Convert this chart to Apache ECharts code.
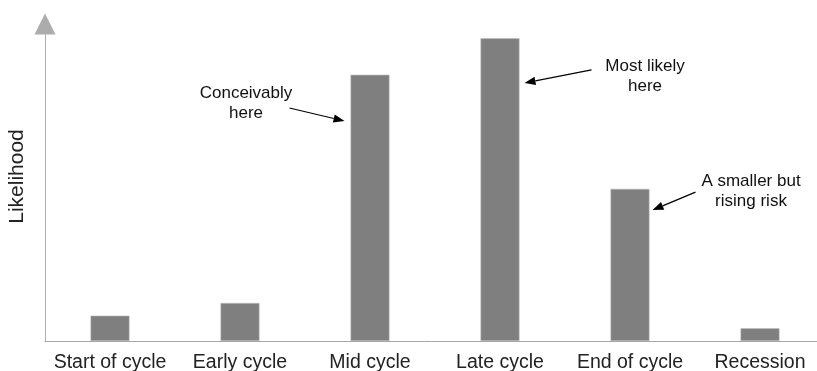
<!DOCTYPE html>
<html>
<head>
<meta charset="utf-8">
<script src="https://cdn.jsdelivr.net/npm/echarts@6/dist/echarts.min.js"></script>
<style>
  html, body { margin: 0; padding: 0; background: #ffffff; }
  #chart { width: 817px; height: 371px; }
</style>
</head>
<body>
<div id="chart"></div>
<script>
// Business-cycle stages and the relative likelihood at each one
const categories = ['Start of cycle', 'Early cycle', 'Mid cycle', 'Late cycle', 'End of cycle', 'Recession'];
const likelihood = [8, 12, 84, 95.5, 48, 4];

// Callouts: text lines, the bar they point at, and the value on that bar the arrow hits
const calloutText = [['Conceivably', 'here'], ['Most likely', 'here'], ['A smaller but', 'rising risk']];
const calloutBar = ['Mid cycle', 'Late cycle', 'End of cycle'];
const calloutValue = [69.4, 81.4, 41.3];

const FONT = 'Liberation Sans, Arial, sans-serif';
const BAND = 130;
const chart = echarts.init(document.getElementById('chart'), null, { renderer: 'canvas' });

chart.setOption({
  animation: false,
  backgroundColor: '#ffffff',
  grid: { left: 45, top: 24, height: 317, width: BAND * categories.length, outerBoundsMode: 'none', containLabel: false },
  xAxis: {
    type: 'category',
    data: categories,
    axisLine: { show: true, lineStyle: { color: '#a6a6a6', width: 1 } },
    axisTick: { show: false },
    axisLabel: { interval: 0, hideOverlap: false, color: '#222', fontFamily: FONT, fontSize: 19.5, margin: 12 },
    splitLine: { show: false }
  },
  yAxis: {
    type: 'value',
    min: 0,
    max: 100,
    name: 'Likelihood',
    nameLocation: 'middle',
    nameGap: 17,
    nameTextStyle: { color: '#222', fontFamily: FONT, fontSize: 21, padding: [0, 0, 0, 12] },
    axisLine: {
      show: true,
      symbol: ['none', 'triangle'],
      symbolSize: [21, 21],
      lineStyle: { color: '#acacac', width: 1 }
    },
    axisTick: { show: false },
    axisLabel: { show: false },
    splitLine: { show: false }
  },
  series: [{
    type: 'bar',
    data: likelihood,
    barWidth: '30%',
    itemStyle: { color: '#7f7f7f', borderColor: '#bdbdbd', borderWidth: 0.6 },
    silent: true
  }]
});

// Build the arrows and labels from the bar positions
const graphics = [];
const calloutLayout = [
  { side: 'left', gap: 6, dx: -98.5, dy: -18, line: [-55, -13] },
  { side: 'right', gap: 5, dx: 120.5, dy: -7, line: [67, -13] },
  { side: 'right', gap: 3, dx: 98.5, dy: -19, line: [43, -18] }
];
calloutBar.forEach((bar, i) => {
  const centre = chart.convertToPixel({ seriesIndex: 0 }, [bar, calloutValue[i]]);
  const half = BAND * 0.3 / 2;
  const o = calloutLayout[i];
  const tipX = o.side === 'left' ? centre[0] - half - o.gap : centre[0] + half + o.gap;
  const tipY = centre[1];
  const startX = tipX + o.line[0];
  const startY = tipY + o.line[1];
  const ang = Math.atan2(tipY - startY, tipX - startX);
  const len = 11, wid = 4.2;
  const bx = tipX - Math.cos(ang) * len, by = tipY - Math.sin(ang) * len;
  graphics.push({
    type: 'line', silent: true,
    shape: { x1: startX, y1: startY, x2: bx, y2: by },
    style: { stroke: '#000', lineWidth: 1.2 }
  });
  graphics.push({
    type: 'polygon', silent: true,
    shape: { points: [[tipX, tipY], [bx - Math.sin(ang) * wid, by + Math.cos(ang) * wid], [bx + Math.sin(ang) * wid, by - Math.cos(ang) * wid]] },
    style: { fill: '#000' }
  });
  graphics.push({
    type: 'text', silent: true,
    x: tipX + o.dx, y: tipY + o.dy,
    style: {
      text: calloutText[i].join('\n'),
      fill: '#111', font: '17px ' + FONT,
      align: 'center', verticalAlign: 'middle', lineHeight: 20
    }
  });
});
chart.setOption({ graphic: graphics });
</script>
</body>
</html>
